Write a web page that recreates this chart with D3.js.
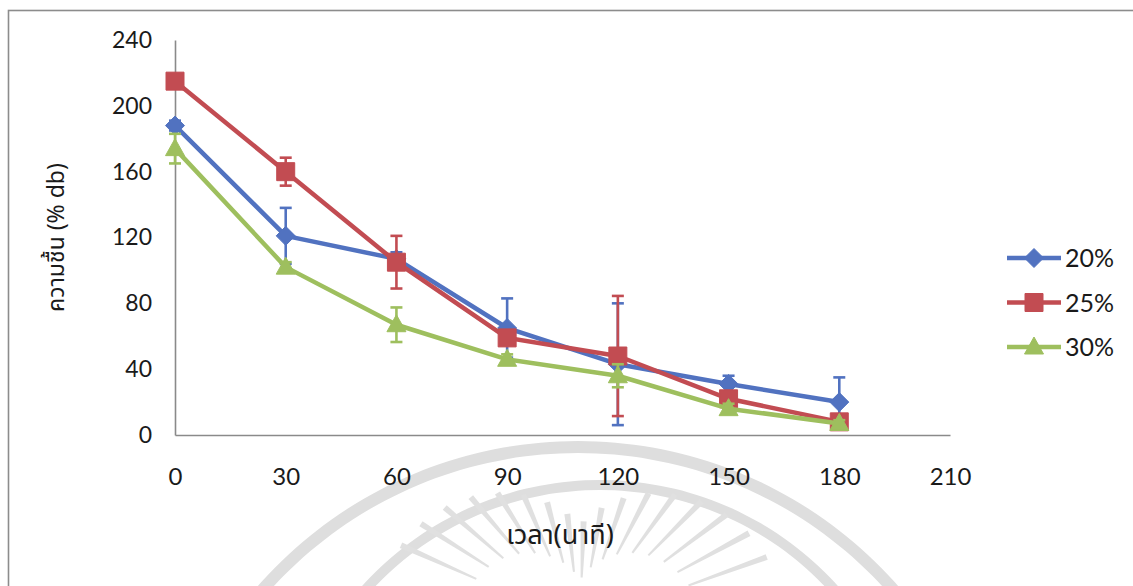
<!DOCTYPE html>
<html>
<head>
<meta charset="utf-8">
<script src="https://cdn.jsdelivr.net/npm/d3@7"></script>
<style>
  html, body { margin: 0; padding: 0; background: #ffffff; }
  svg { display: block; }
</style>
</head>
<body>
<svg id="chart" width="1133" height="586"></svg>
<script>
// Drying time (minutes) and moisture content (% dry basis) for three treatments
const times = [0, 30, 60, 90, 120, 150, 180];
const seriesNames = ["20%", "25%", "30%"];
const moisture20 = [188, 121, 107, 65, 43, 31, 20];
const moisture25 = [215, 160, 105, 59, 48, 22, 8];
const moisture30 = [174, 102, 67, 46, 36, 16, 7];
const error20 = [3, 17, 4, 18, 37, 5, 15];
const error25 = [3, 8.5, 16, 3, 36.5, 3, 2];
const error30 = [9, 3, 10.5, 3, 7, 3, 2];
const xTicks = [0, 30, 60, 90, 120, 150, 180, 210];
const yTicks = [0, 40, 80, 120, 160, 200, 240];
const xTitle = "เวลา(นาที)";
const yTitle = "ความชื้น (% db)";

const colors = ["#5172c0", "#c24c52", "#9ebf5e"];
const shapes = ["diamond", "square", "triangle"];
const series = seriesNames.map((name, i) => ({
  name,
  color: colors[i],
  shape: shapes[i],
  values: [moisture20, moisture25, moisture30][i],
  errors: [error20, error25, error30][i]
}));

const svg = d3.select("#chart");
const latin = "Lato, 'Open Sans', 'DejaVu Sans', sans-serif";
const thai = "'Noto Sans Thai', 'Noto Sans Thai UI', Loma, Garuda, 'Tlwg Typist', Lato, sans-serif";

const x = d3.scaleLinear().domain([0, 210]).range([175, 950]);
const y = d3.scaleLinear().domain([0, 240]).range([435, 40]);

// Faint university seal behind the lower part of the page
const seal = svg.append("g").attr("fill", "none").attr("stroke", "#dedede");
const arcLine = d3.line().curve(d3.curveCardinal);
function ringPoints(cx, cy, r, a0, a1) {
  return d3.range(0, 41).map(k => {
    const a = a0 + (a1 - a0) * k / 40;
    return [cx + r * Math.cos(a), cy - r * Math.sin(a)];
  });
}
seal.append("path").attr("d", arcLine(ringPoints(578, 867, 420, Math.PI * 0.22, Math.PI * 0.78))).attr("stroke-width", 12);
seal.append("path").attr("d", arcLine(ringPoints(600, 800, 315, Math.PI * 0.2, Math.PI * 0.8))).attr("stroke-width", 10);
const rayAngles = d3.range(20, 161, 8.5);
seal.selectAll("path.ray").data(rayAngles).join("path")
  .attr("class", "ray")
  .attr("fill", "#e0e0e0").attr("stroke", "none")
  .attr("d", deg => {
    const a = deg * Math.PI / 180;
    const c = Math.abs(Math.cos(a));
    const rIn = 45 + 75 * c, rOut = 100 + 105 * c;
    const cx = 580, cy = 625;
    const ux = Math.cos(a), uy = -Math.sin(a);
    const px = -uy, py = ux;
    const p0 = [cx + ux * rIn, cy + uy * rIn];
    const p1 = [cx + ux * rOut, cy + uy * rOut];
    return `M${p0[0] + px * 1},${p0[1] + py * 1}L${p1[0] + px * 3},${p1[1] + py * 3}L${p1[0] - px * 3},${p1[1] - py * 3}L${p0[0] - px * 1},${p0[1] - py * 1}Z`;
  });

// Outer frame of the chart object
svg.append("rect")
  .attr("x", 8.5).attr("y", 10.5).attr("width", 1300).attr("height", 800)
  .attr("fill", "none").attr("stroke", "#8c8c8c").attr("stroke-width", 1.6);

// Axes
const yAxis = svg.append("g")
  .attr("transform", `translate(${x(0)},0)`)
  .call(d3.axisLeft(y).tickValues(yTicks).tickSize(0).tickPadding(23));
const xAxis = svg.append("g")
  .attr("transform", `translate(0,${y(0)})`)
  .call(d3.axisBottom(x).tickValues(xTicks).tickSize(0).tickPadding(33));
[yAxis, xAxis].forEach(g => {
  g.select(".domain").attr("stroke", "#8a8a8a").attr("stroke-width", 1.6);
  g.selectAll("text").attr("fill", "#1a1a1a").style("font-family", latin).style("font-size", "23px");
});
xAxis.selectAll("text").style("font-size", "24px");

// Axis titles
svg.append("text")
  .attr("transform", `translate(64,${(y(0) + y(240)) / 2}) rotate(-90)`)
  .attr("text-anchor", "middle")
  .style("font-family", thai).style("font-size", "23px").attr("fill", "#1a1a1a")
  .text(yTitle);
svg.append("text")
  .attr("x", 560).attr("y", 544)
  .attr("text-anchor", "middle")
  .style("font-family", thai).style("font-size", "27px").attr("fill", "#1a1a1a")
  .text(xTitle);

// Marker shapes
function markerPath(shape) {
  if (shape === "square") return "M-9,-9H9V9H-9Z";
  if (shape === "diamond") return "M0,-9.5L9.5,0L0,9.5L-9.5,0Z";
  return "M0,-10L9.5,7L-9.5,7Z";
}

const line = d3.line().x((d, i) => x(times[i])).y(d => y(d));

series.forEach(s => {
  const g = svg.append("g");
  // error bars
  const eb = g.selectAll("g.err").data(s.values.map((v, i) => ({ t: times[i], v, e: s.errors[i] })))
    .join("g").attr("class", "err").attr("stroke", s.color).attr("stroke-width", 2.6);
  eb.append("line")
    .attr("x1", d => x(d.t)).attr("x2", d => x(d.t))
    .attr("y1", d => y(d.v + d.e)).attr("y2", d => y(d.v - d.e));
  eb.append("line")
    .attr("x1", d => x(d.t) - 6).attr("x2", d => x(d.t) + 6)
    .attr("y1", d => y(d.v + d.e)).attr("y2", d => y(d.v + d.e));
  eb.append("line")
    .attr("x1", d => x(d.t) - 6).attr("x2", d => x(d.t) + 6)
    .attr("y1", d => y(d.v - d.e)).attr("y2", d => y(d.v - d.e));
  // series line
  g.append("path").datum(s.values)
    .attr("fill", "none").attr("stroke", s.color).attr("stroke-width", 4.5)
    .attr("stroke-linejoin", "round").attr("d", line);
  // markers
  g.selectAll("path.mk").data(s.values).join("path")
    .attr("class", "mk")
    .attr("transform", (d, i) => `translate(${x(times[i])},${y(d)})`)
    .attr("d", markerPath(s.shape))
    .attr("fill", s.color).attr("stroke", s.color).attr("stroke-width", 1);
});

// Legend
const legendY = d3.scalePoint().domain(seriesNames).range([258, 347]);
const legend = svg.append("g");
series.forEach(s => {
  const ly = legendY(s.name);
  legend.append("line").attr("x1", 1007).attr("x2", 1061).attr("y1", ly).attr("y2", ly)
    .attr("stroke", s.color).attr("stroke-width", 4.5);
  legend.append("path").attr("transform", `translate(1034,${ly})`).attr("d", markerPath(s.shape))
    .attr("fill", s.color).attr("stroke", s.color);
  legend.append("text").attr("x", 1065).attr("y", ly).attr("dy", "0.36em")
    .style("font-family", latin).style("font-size", "25px").attr("fill", "#1a1a1a")
    .text(s.name);
});
</script>
</body>
</html>
